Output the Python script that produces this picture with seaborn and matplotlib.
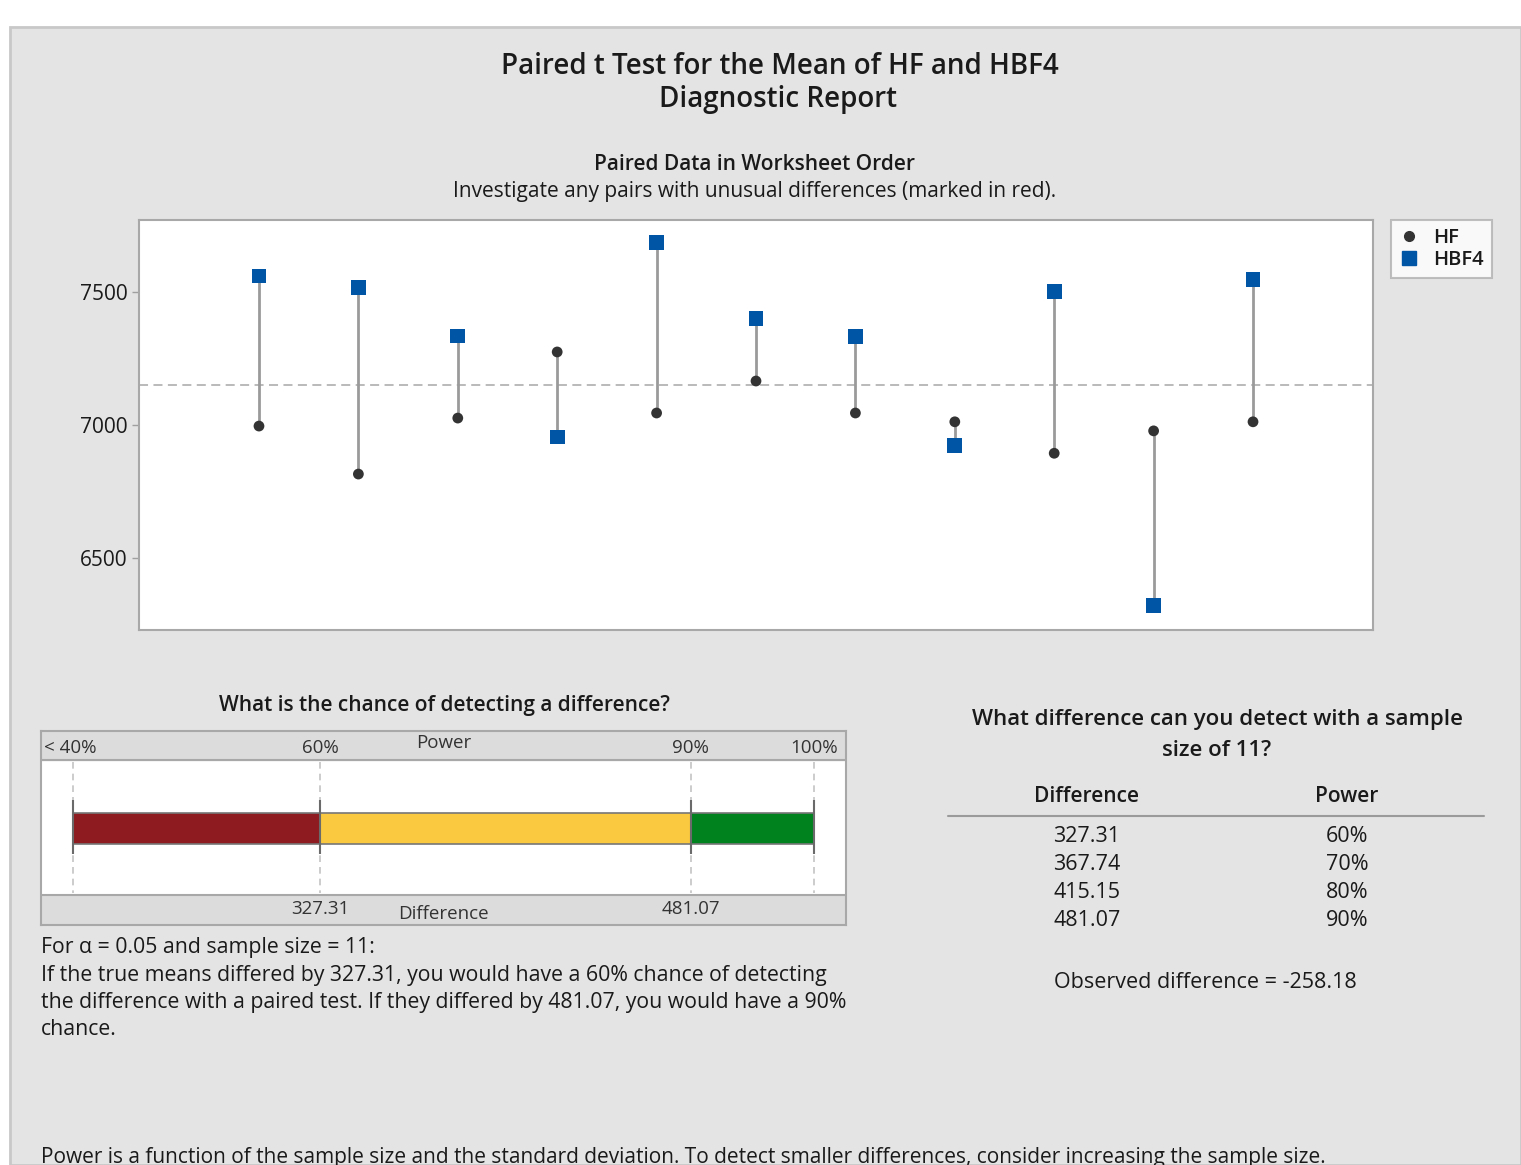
import matplotlib
matplotlib.use("Agg")
import matplotlib.pyplot as plt
from matplotlib.patches import Rectangle
import numpy as np
import pandas as pd
import seaborn as sns

# ---- data -------------------------------------------------------------
observation = list(range(1, 12))
hf = [6996, 6816, 7026, 7274, 7045, 7165, 7045, 7012, 6894, 6978, 7012]
hbf4 = [7559, 7517, 7334, 6955, 7686, 7398, 7331, 6924, 7500, 6323, 7547]
y_ticks = [6500, 7000, 7500]

power_bounds = [40, 60, 90, 100]
power_colors = ["#8e1b1f", "#fbc940", "#00821f"]
power_labels = ["< 40%", "60%", "90%", "100%"]
diff_at_power = {60: "327.31", 90: "481.07"}

table_diff = ["327.31", "367.74", "415.15", "481.07"]
table_power = ["60%", "70%", "80%", "90%"]
observed_diff = "-258.18"
sample_size = 11
alpha = 0.05

# ---- figure setup -----------------------------------------------------
W, H = 1521, 1165
sns.set_theme(style="white")
plt.rcParams["font.family"] = ["Open Sans", "DejaVu Sans"]
fig = plt.figure(figsize=(W / 100, H / 100), dpi=100, facecolor="white")


def fx(x):
    return x / W


def fy(y):
    # text anchors sit slightly lower than the nominal centre line
    return 1 - y / H


# gray report panel behind everything
fig.patches.append(Rectangle((fx(10), 0), 1 - fx(10), fy(27), transform=fig.transFigure,
                             facecolor="#e4e4e4", edgecolor="#c8c8c8", linewidth=2, zorder=-5))

TXT = "#1a1a1a"
SEMI = 600
DY = 2
fig.text(fx(780), fy(65 + DY), "Paired t Test for the Mean of HF and HBF4", ha="center",
         va="center", fontsize=20, fontweight=SEMI, color=TXT)
fig.text(fx(778), fy(97 + DY), "Diagnostic Report", ha="center", va="center",
         fontsize=20, fontweight=SEMI, color=TXT)
fig.text(fx(755), fy(163 + DY), "Paired Data in Worksheet Order", ha="center", va="center",
         fontsize=15, fontweight=SEMI, color=TXT)
fig.text(fx(755), fy(190 + DY), "Investigate any pairs with unusual differences (marked in red).",
         ha="center", va="center", fontsize=15, color=TXT)

# ---- paired data plot -------------------------------------------------
ax = fig.add_axes([fx(139), fy(630), fx(1373) - fx(139), (630 - 220) / H])
ax.set_facecolor("white")
df = pd.DataFrame({"obs": observation * 2, "value": hf + hbf4,
                   "series": ["HF"] * len(hf) + ["HBF4"] * len(hbf4)})
ax.vlines(observation, hf, hbf4, color="#9a9a9a", linewidth=2, zorder=1)
ax.axhline(np.mean(hf + hbf4), color="#b4b4b4", linestyle=(0, (5, 3)), linewidth=1.3, zorder=0)
sns.scatterplot(data=df, x="obs", y="value", hue="series", style="series",
                palette={"HF": "#333333", "HBF4": "#0055a5"},
                markers={"HF": "o", "HBF4": "s"}, size="series",
                sizes={"HF": 60, "HBF4": 115}, edgecolor="none", ax=ax, zorder=3, legend=False)
ax.set_xlim(-0.207, 12.207)
ax.set_ylim(6231, 7769)
ax.set_yticks(y_ticks)
ax.set_yticklabels([str(v) for v in y_ticks], fontsize=15, color=TXT)
ax.set_xticks([])
ax.set_xlabel("")
ax.set_ylabel("")
ax.tick_params(axis="y", which="major", left=True, length=5, width=1, color="#a0a0a0", pad=3)
for s in ax.spines.values():
    s.set_color("#a8a8a8")
    s.set_linewidth(1.5)

h1 = plt.Line2D([], [], marker="o", color="#333333", linestyle="none", markersize=7, label="HF")
h2 = plt.Line2D([], [], marker="s", color="#0055a5", linestyle="none", markersize=10, label="HBF4")
leg = ax.legend(handles=[h1, h2], loc="upper left", bbox_to_anchor=(1.0146, 1.0),
                frameon=True, fancybox=False, fontsize=14.5, handletextpad=0.7,
                borderpad=0.4, labelspacing=0.1, handlelength=1.0, borderaxespad=0)
leg.get_frame().set_edgecolor("#b0b0b0")
leg.get_frame().set_linewidth(1.5)
for t in leg.get_texts():
    t.set_fontweight(SEMI)
    t.set_color(TXT)

# ---- power bar --------------------------------------------------------
fig.text(fx(444), fy(703 + DY), "What is the chance of detecting a difference?", ha="center",
         va="center", fontsize=15, fontweight=SEMI, color=TXT)
bx = fig.add_axes([fx(41), fy(925), fx(846) - fx(41), (925 - 731) / H])
x0 = 40 - (73 - 41) / 12.35
x1 = 100 + (846 - 814) / 12.35
bx.set_xlim(x0, x1)
bx.set_ylim(925, 731)
bx.set_facecolor("white")
bx.axhspan(731, 760, color="#dcdcdc", zorder=0)
bx.axhspan(895, 925, color="#dcdcdc", zorder=0)
bx.axhline(760, color="#a8a8a8", linewidth=1.5)
bx.axhline(895, color="#a8a8a8", linewidth=1.5)
bx.vlines(power_bounds, 762, 893, color="#c4c4c4", linestyle=(0, (4, 3)), linewidth=1.2, zorder=1)
lefts = power_bounds[:-1]
widths = np.diff(power_bounds)
bx.barh(828.5, widths, left=lefts, height=31, color=power_colors, edgecolor="#777777",
        linewidth=1.2, zorder=2)
bx.vlines(power_bounds, 800, 854, color="#6a6a6a", linewidth=1.5, zorder=3)
bx.set_xticks([])
bx.set_yticks([])
for s in bx.spines.values():
    s.set_color("#a8a8a8")
    s.set_linewidth(1.5)

LBL = "#333333"
bx.text(3 / 805, 748, power_labels[0], transform=bx.get_yaxis_transform(), ha="left",
        va="center", fontsize=13.5, color=LBL)
for p, lab in zip(power_bounds[1:], power_labels[1:]):
    bx.text(p, 748, lab, ha="center", va="center", fontsize=13.5, color=LBL)
bx.text(0.5, 743, "Power", transform=bx.get_yaxis_transform(), ha="center", va="center",
        fontsize=13.5, color=LBL)
for p, lab in diff_at_power.items():
    bx.text(p, 909, lab, ha="center", va="center", fontsize=13.5, color=LBL)
bx.text(0.5, 914, "Difference", transform=bx.get_yaxis_transform(), ha="center",
        va="center", fontsize=13.5, color=LBL)

para = ["For \u03b1 = %.2f and sample size = %d:" % (alpha, sample_size),
        "If the true means differed by %s, you would have a 60%% chance of detecting" % table_diff[0],
        "the difference with a paired test. If they differed by %s, you would have a 90%%" % table_diff[-1],
        "chance."]
for i, line in enumerate(para):
    fig.text(fx(41), fy(946 + DY + i * 27.3), line, ha="left", va="center", fontsize=15.3,
             color=TXT)

# ---- detectable difference table -------------------------------------
fig.text(fx(1217), fy(718 + DY), "What difference can you detect with a sample", ha="center",
         va="center", fontsize=16, fontweight=SEMI, color=TXT)
fig.text(fx(1217), fy(748 + DY), "size of %d?" % sample_size, ha="center",
         va="center", fontsize=16, fontweight=SEMI, color=TXT)
fig.text(fx(1087), fy(794 + DY), "Difference", ha="center", va="center", fontsize=15,
         fontweight=SEMI, color=TXT)
fig.text(fx(1347), fy(794 + DY), "Power", ha="center", va="center", fontsize=15,
         fontweight=SEMI, color=TXT)
fig.add_artist(plt.Line2D([fx(948), fx(1484)], [fy(816), fy(816)], color="#9a9a9a",
                          linewidth=1.5, transform=fig.transFigure))
row_y = [835, 862, 891, 918]
for yy, d, p in zip(row_y, table_diff, table_power):
    fig.text(fx(1087), fy(yy + DY), d, ha="center", va="center", fontsize=15.5, color=TXT)
    fig.text(fx(1347), fy(yy + DY), p, ha="center", va="center", fontsize=15.5, color=TXT)
fig.text(fx(1205), fy(981 + DY), "Observed difference = %s" % observed_diff, ha="center",
         va="center", fontsize=15.5, color=TXT)

fig.text(fx(41), fy(1155 + DY), "Power is a function of the sample size and the standard deviation. "
         "To detect smaller differences, consider increasing the sample size.",
         ha="left", va="center", fontsize=15, color=TXT)

fig.savefig("out.png", dpi=100, facecolor=fig.get_facecolor())
